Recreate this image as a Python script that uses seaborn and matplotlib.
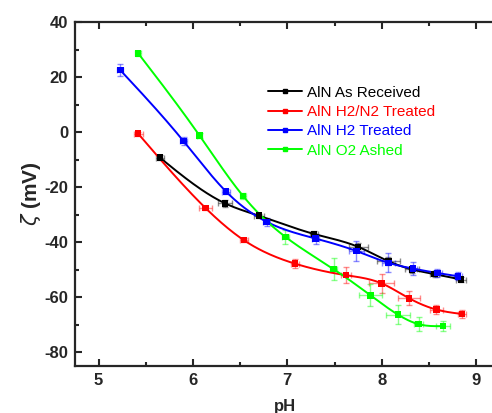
import numpy as np
import pandas as pd
import matplotlib
matplotlib.use("Agg")
import matplotlib.pyplot as plt
from matplotlib.lines import Line2D
from matplotlib.ticker import MultipleLocator
import seaborn as sns

# Zeta potential of AlN powders versus pH
series_names = ["AlN As Received", "AlN H2/N2 Treated", "AlN H2 Treated", "AlN O2 Ashed"]
series_colors = ["#000000", "#FF0000", "#0000FF", "#00FF00"]

ph_received = [5.65, 6.34, 6.70, 7.28, 7.75, 8.07, 8.32, 8.56, 8.84]
zeta_received = [-9.3, -25.9, -30.4, -37.0, -41.7, -46.9, -49.9, -51.6, -53.6]
ph_err_received = [0.04, 0.07, 0.05, 0.04, 0.10, 0.12, 0.07, 0.05, 0.05]
zeta_err_received = [0.8, 1.4, 0.8, 1.2, 1.5, 1.5, 1.2, 1.0, 1.0]

ph_h2n2 = [5.42, 6.13, 6.54, 7.08, 7.62, 8.00, 8.29, 8.58, 8.85]
zeta_h2n2 = [-0.6, -27.5, -39.3, -47.8, -52.0, -55.0, -60.4, -64.5, -66.1]
ph_err_h2n2 = [0.05, 0.07, 0.04, 0.04, 0.05, 0.13, 0.12, 0.07, 0.04]
zeta_err_h2n2 = [0.8, 0.8, 0.7, 1.5, 3.0, 3.5, 2.5, 1.5, 1.5]

ph_h2 = [5.23, 5.90, 6.35, 6.78, 7.30, 7.73, 8.07, 8.33, 8.59, 8.81]
zeta_h2 = [22.5, -3.3, -21.6, -32.6, -38.7, -43.2, -47.5, -49.6, -51.2, -52.4]
ph_err_h2 = [0.03, 0.04, 0.04, 0.04, 0.04, 0.08, 0.07, 0.04, 0.05, 0.04]
zeta_err_h2 = [2.2, 1.5, 1.0, 1.5, 1.8, 3.5, 3.5, 2.5, 1.5, 1.5]

ph_o2 = [5.42, 6.07, 6.53, 6.98, 7.49, 7.88, 8.17, 8.39, 8.65]
zeta_o2 = [28.6, -1.3, -23.2, -38.1, -49.8, -59.3, -66.3, -69.8, -70.5]
ph_err_o2 = [0.03, 0.03, 0.03, 0.04, 0.04, 0.12, 0.13, 0.05, 0.07]
zeta_err_o2 = [1.0, 0.8, 1.0, 2.5, 4.0, 4.0, 3.5, 2.5, 1.8]

x_ticks = [5, 6, 7, 8, 9]
y_ticks = [-80, -60, -40, -20, 0, 20, 40]

frames = []
for name, ph, z, pe, ze in [
    (series_names[0], ph_received, zeta_received, ph_err_received, zeta_err_received),
    (series_names[1], ph_h2n2, zeta_h2n2, ph_err_h2n2, zeta_err_h2n2),
    (series_names[2], ph_h2, zeta_h2, ph_err_h2, zeta_err_h2),
    (series_names[3], ph_o2, zeta_o2, ph_err_o2, zeta_err_o2),
]:
    frames.append(pd.DataFrame({"sample": name, "pH": ph, "zeta": z,
                                "pH_err": pe, "zeta_err": ze}))
df = pd.concat(frames, ignore_index=True)


def natural_spline(x, y, n=200):
    """Smooth natural cubic spline through the measured points."""
    x = np.asarray(x, float)
    y = np.asarray(y, float)
    k = len(x)
    h = np.diff(x)
    A = np.zeros((k, k))
    b = np.zeros(k)
    A[0, 0] = A[-1, -1] = 1.0
    for i in range(1, k - 1):
        A[i, i - 1] = h[i - 1]
        A[i, i] = 2 * (h[i - 1] + h[i])
        A[i, i + 1] = h[i]
        b[i] = 3 * ((y[i + 1] - y[i]) / h[i] - (y[i] - y[i - 1]) / h[i - 1])
    c = np.linalg.solve(A, b)
    xs = np.linspace(x[0], x[-1], n)
    idx = np.clip(np.searchsorted(x, xs) - 1, 0, k - 2)
    dx = xs - x[idx]
    bb = (y[idx + 1] - y[idx]) / h[idx] - h[idx] * (2 * c[idx] + c[idx + 1]) / 3
    dd = (c[idx + 1] - c[idx]) / (3 * h[idx])
    ys = y[idx] + bb * dx + c[idx] * dx ** 2 + dd * dx ** 3
    return xs, ys


sns.set_theme(style="ticks")
plt.rcParams["font.family"] = ["Liberation Sans", "DejaVu Sans"]
plt.rcParams["axes.unicode_minus"] = False

fig = plt.figure(figsize=(4.92, 4.13), dpi=100)
ax = fig.add_axes([75 / 492, 47 / 413, 420 / 492, 344 / 413])

palette = dict(zip(series_names, series_colors))

for name in series_names:
    sub = df[df["sample"] == name]
    col = palette[name]
    ax.errorbar(sub["pH"], sub["zeta"], xerr=sub["pH_err"], yerr=sub["zeta_err"],
                fmt="none", ecolor=col, alpha=0.45, elinewidth=1.0,
                capsize=2.5, capthick=1.0, zorder=2)
    xs, ys = natural_spline(sub["pH"], sub["zeta"])
    ax.plot(xs, ys, color=col, lw=1.4, zorder=3)

sns.scatterplot(data=df, x="pH", y="zeta", hue="sample", palette=palette,
                marker="s", s=22, linewidth=0, legend=False, ax=ax, zorder=4)

ax.set_xlim(4.75, 9.2)
ax.set_ylim(-85, 40)
ax.set_xticks(x_ticks)
ax.set_yticks(y_ticks)
ax.xaxis.set_minor_locator(MultipleLocator(0.5))
ax.yaxis.set_minor_locator(MultipleLocator(10))
ax.tick_params(which="both", direction="in", top=True, right=False, width=1.5)
ax.tick_params(which="major", length=5, labelsize=12, pad=5)
ax.tick_params(which="minor", length=3)
for lab in ax.get_xticklabels() + ax.get_yticklabels():
    lab.set_fontweight("bold")

for side in ["left", "bottom", "top"]:
    ax.spines[side].set_linewidth(1.6)
ax.spines["right"].set_visible(False)

ax.set_xlabel("pH", fontsize=12, fontweight="bold", labelpad=8)
ax.set_ylabel(r"$\zeta$ (mV)", fontsize=15, fontweight="bold", labelpad=1)

handles = [Line2D([0], [0], color=c, lw=1.4, marker="s", markersize=3.5)
           for c in series_colors]
leg = ax.legend(handles, series_names, loc="upper left",
                bbox_to_anchor=(0.445, 0.833), frameon=False, fontsize=11,
                handlelength=2.25, handletextpad=0.3, labelspacing=0.35,
                borderaxespad=0)
for txt, c in zip(leg.get_texts(), series_colors):
    txt.set_color(c)

fig.savefig("out.png", dpi=100)
